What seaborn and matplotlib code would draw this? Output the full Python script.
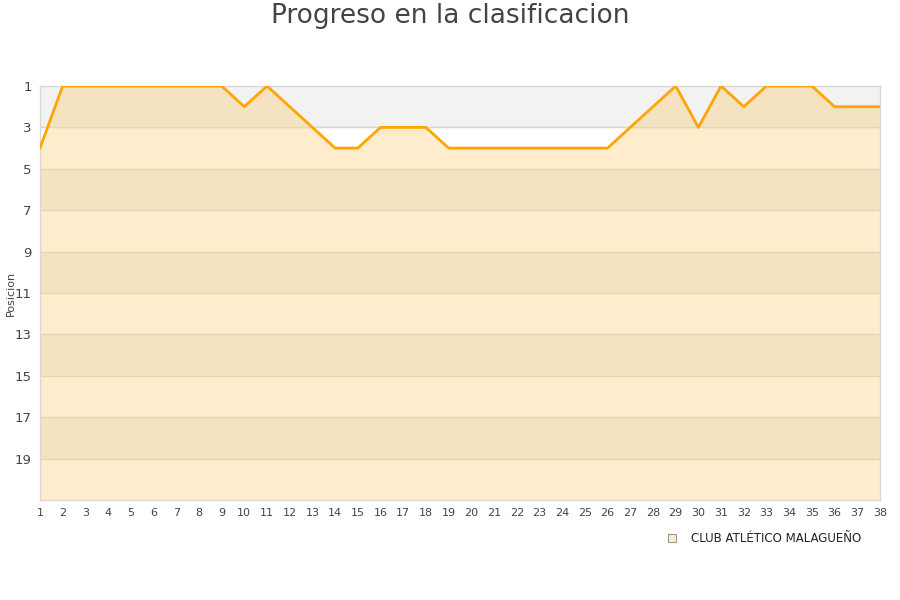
import numpy as np
import pandas as pd
import matplotlib
matplotlib.use("Agg")
import matplotlib.pyplot as plt
import seaborn as sns

jornadas = list(range(1, 39))
posiciones = [4, 1, 1, 1, 1, 1, 1, 1, 1, 2, 1, 2, 3, 4, 4, 3, 3, 3, 4, 4,
              4, 4, 4, 4, 4, 4, 3, 2, 1, 3, 1, 2, 1, 1, 1, 2, 2, 2]
y_ticks = [1, 3, 5, 7, 9, 11, 13, 15, 17, 19]
equipo = "CLUB ATLÉTICO MALAGUEÑO"
titulo = "Progreso en la clasificacion"
y_label = "Posicion"

df = pd.DataFrame({"Jornada": jornadas, "Posicion": posiciones})

sns.set_theme(style="white")
plt.rcParams['font.family'] = ['DejaVu Sans']

fig = plt.figure(figsize=(9, 6), dpi=100)
ax = fig.add_axes([40/900, 100/600, 840/900, 414/600])

ymin, ymax = 1, 21
x0, x1 = jornadas[0], jornadas[-1]

# background bands (above the line)
for i, b in enumerate(range(ymin, ymax, 2)):
    col = "#f2f2f2" if i % 2 == 0 else "#ffffff"
    ax.axhspan(b, b + 2, color=col, zorder=0, lw=0)

# fill under line
poly = ax.fill_between(df["Jornada"], df["Posicion"], ymax, color="#feeccc", lw=0, zorder=1)
clip = poly.get_paths()[0]
for i, b in enumerate(range(ymin, ymax, 2)):
    if i % 2 == 0:
        r = ax.axhspan(b, b + 2, color="#f5e2c0", zorder=1.5, lw=0)
        r.set_clip_path(clip, ax.transData)

# grid lines
for t in y_ticks[1:]:
    ax.axhline(t, color="#e6d6b8", lw=0.9, zorder=2)
ax.axhline(3, xmin=0, xmax=1, color="#e0d6c4", lw=0.9, zorder=1.2)

sns.lineplot(data=df, x="Jornada", y="Posicion", ax=ax, color="#ffa500",
             linewidth=2.0, zorder=5, legend=False)

ax.set_xlim(x0, x1)
ax.set_ylim(ymax, ymin)
ax.set_xticks(jornadas)
ax.set_xticklabels([str(j) for j in jornadas], fontsize=8, color="#444444")
ax.set_yticks(y_ticks)
ax.set_yticklabels([str(t) for t in y_ticks], fontsize=9.5, color="#444444")
ax.tick_params(axis="both", length=0, pad=6)
ax.set_xlabel("")
ax.set_ylabel("")
fig.text(11/900, 1 - 293/600, y_label, rotation=90, ha="center", va="center",
         fontsize=8, color="#444444")

for s in ax.spines.values():
    s.set_color("#d8d8d8")
    s.set_linewidth(1)

fig.text(0.5, 1 - 16/600, titulo, ha="center", va="center", fontsize=19, color="#444444")

# legend
from matplotlib.lines import Line2D
h = Line2D([], [], marker="s", linestyle="none", markersize=6,
           markerfacecolor="#feeccc", markeredgecolor="#999999", markeredgewidth=0.8)
fig.legend([h], [equipo], loc="center right", bbox_to_anchor=(872/900, 1 - 539/600),
           frameon=False, fontsize=8.5, handletextpad=0.6, labelcolor="#222222")

fig.savefig("out.png", dpi=100)
